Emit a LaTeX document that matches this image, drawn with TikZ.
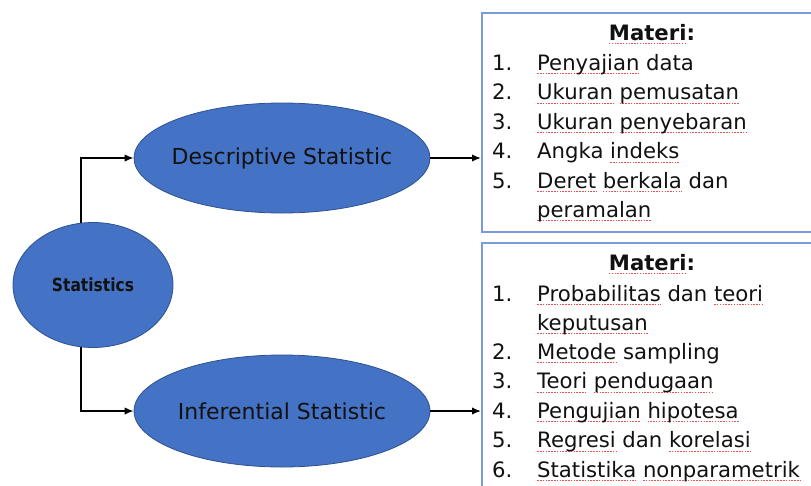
\documentclass[tikz,border=0pt]{standalone}
\usepackage{fontspec}
\setmainfont{DejaVu Sans}
\usetikzlibrary{shapes.geometric,arrows.meta}
\definecolor{ovalfill}{HTML}{4472C4}
\definecolor{ovalline}{HTML}{2F528F}
\definecolor{panelline}{RGB}{122,154,220}
\definecolor{ink}{HTML}{111111}
\definecolor{squigred}{RGB}{235,80,80}
\newsavebox\sqbox
\newcommand\sq[1]{\sbox\sqbox{#1}%
  \rlap{\tikz[overlay,baseline=0pt,x=1pt,y=1pt]\draw[squigred,line width=0.9pt,dash pattern=on 1.5pt off 1.3pt] (0,-3.8) -- (\the\wd\sqbox,-3.8);}%
  \usebox\sqbox}
\tikzset{
  oval/.style={ellipse, draw=ovalline, fill=ovalfill, line width=0.8pt, inner sep=0pt, text=ink},
  arr/.style={-{Latex[length=9pt,width=7.5pt]}, line width=1.6pt, draw=black},
  panel/.style={draw=panelline, line width=1.5pt, rectangle, inner sep=0pt, anchor=north west},
  listtxt/.style={anchor=base west, inner sep=0pt, text=ink, font=\fontsize{21.2}{25}\selectfont},
  heading/.style={anchor=base, inner sep=0pt, text=ink, font=\bfseries\fontsize{21.2}{25}\selectfont},
}
\begin{document}
\begin{tikzpicture}[x=1pt,y=-1pt]
\useasboundingbox (0,0) rectangle (811,485);
\clip (0,0) rectangle (811,485);
% ovals
\node[oval, minimum width=160pt, minimum height=125pt] (stat) at (93,285)
  {\makebox[0pt]{\scalebox{0.86}[1]{\bfseries\fontsize{18}{20}\selectfont Statistics}}};
\node[oval, minimum width=296pt, minimum height=110pt] (desc) at (282,158)
  {\makebox[0pt]{\fontsize{22}{26}\selectfont Descriptive Statistic}};
\node[oval, minimum width=296pt, minimum height=112pt] (inf) at (282,411)
  {\makebox[0pt]{\fontsize{22}{26}\selectfont Inferential Statistic}};
% panels
\node[panel, minimum width=342pt, minimum height=219pt] (box1) at (481,12) {};
\node[panel, minimum width=342pt, minimum height=260pt] (box2) at (481,242) {};
% connectors
\draw[arr] (stat.101) |- (desc.west);
\draw[arr] (stat.259) |- (inf.west);
\draw[arr] (desc.east) -- (desc.east -| box1.west);
\draw[arr] (inf.east) -- (inf.east -| box2.west);
% top list
\node[heading] (h1) at (652,40) {\sq{Materi}:};
\node[listtxt] (n11) at (492,70) {1.};
\node[listtxt] (t11) at (537,70) {\sq{Penyajian} data};
\node[listtxt] (n12) at (492,99.5) {2.};
\node[listtxt] (t12) at (537,99.5) {\sq{Ukuran} \sq{pemusatan}};
\node[listtxt] (n13) at (492,129) {3.};
\node[listtxt] (t13) at (537,129) {\sq{Ukuran} \sq{penyebaran}};
\node[listtxt] (n14) at (492,158.5) {4.};
\node[listtxt] (t14) at (537,158.5) {Angka \sq{indeks}};
\node[listtxt] (n15) at (492,188) {5.};
\node[listtxt] (t15) at (537,188) {\sq{Deret} \sq{berkala} dan};
\node[listtxt] (t15b) at (537,217) {\sq{peramalan}};
% bottom list
\node[heading] (h2) at (652,270) {\sq{Materi}:};
\node[listtxt] (n21) at (492,301) {1.};
\node[listtxt] (t21) at (537,301) {\sq{Probabilitas} dan \sq{teori}};
\node[listtxt] (t21b) at (537,330) {\sq{keputusan}};
\node[listtxt] (n22) at (492,359) {2.};
\node[listtxt] (t22) at (537,359) {\sq{Metode} sampling};
\node[listtxt] (n23) at (492,388.5) {3.};
\node[listtxt] (t23) at (537,388.5) {\sq{Teori} \sq{pendugaan}};
\node[listtxt] (n24) at (492,418) {4.};
\node[listtxt] (t24) at (537,418) {\sq{Pengujian} \sq{hipotesa}};
\node[listtxt] (n25) at (492,447.5) {5.};
\node[listtxt] (t25) at (537,447.5) {\sq{Regresi} dan \sq{korelasi}};
\node[listtxt] (n26) at (492,477) {6.};
\node[listtxt] (t26) at (537,477) {\sq{Statistika} \sq{nonparametrik}};
\end{tikzpicture}
\end{document}
